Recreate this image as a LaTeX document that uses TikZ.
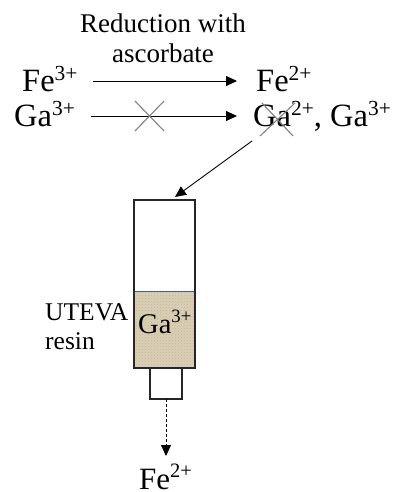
\documentclass[tikz,border=0pt]{standalone}
\usepackage{fontspec}
\setmainfont{Liberation Serif}
\usetikzlibrary{arrows.meta}
\usetikzlibrary{patterns}

\definecolor{resinbeige}{HTML}{DACFB6}
\definecolor{resinspeck}{HTML}{C4B795}
\definecolor{resinline}{HTML}{3F5F9F}

\newcommand{\charge}[1]{\raisebox{0.36em}{\scalebox{0.66}{#1}}}

\tikzset{
  big/.style={font=\fontsize{32.5}{36}\selectfont, text height=22pt, text depth=0pt, inner ysep=0pt},
  label/.style={font=\fontsize{25.5}{30}\selectfont, inner sep=0pt},
  reaction/.style={line width=0.9pt, -{Triangle[length=11pt,width=10pt]}},
  crossout/.style={line width=1.1pt, gray},
  box/.style={line width=1.5pt, draw=black!85, outer sep=0pt, inner sep=0pt}
}

\begin{document}
\begin{tikzpicture}[x=1pt, y=-1pt]
\useasboundingbox (0,0) rectangle (395,492);
\clip (0,0) rectangle (395,492);

% text at the top
\node[label, align=center, anchor=base, font=\fontsize{27}{30}\selectfont] (reduction) at (163,63) {Reduction with\\ascorbate};

% the two reactions
\node[big, anchor=base west, inner xsep=15pt] (fethree) at (7,92)   {Fe\charge{3+}};
\node[big, anchor=base west, inner xsep=16pt] (gathree) at (-2,127) {Ga\charge{3+}};
\node[big, anchor=base west, inner xsep=19pt] (fetwo)   at (237,92) {Fe\charge{2+}};
\node[big, anchor=base west, inner xsep=16pt] (gamix)   at (237,127) {Ga\charge{2+}, Ga\charge{3+}};

\draw[reaction] (fethree.east) -- (fetwo.west);
\draw[reaction] (gathree.east) -- (gamix.west);

\draw[crossout] (135,101) -- (164,131);
\draw[crossout] (135,131) -- (164,101);
\draw[crossout] (262,103) -- (293,136);
\draw[crossout] (260,136) -- (295,103);

% the column
\fill[resinbeige] (134,291) rectangle (195,368);
\fill[pattern=crosshatch dots, pattern color=resinspeck] (134,291) rectangle (195,368);
\draw[line width=1pt, resinline] (134,291) -- (195,291);
\node[box, minimum width=61pt, minimum height=168pt, anchor=north west] (column) at (134,200) {};
\node[box, minimum width=32pt, minimum height=31pt, anchor=north west] (outlet) at (150,368) {};

\node[label, anchor=base west] (uteva) at (45,320) {UTEVA};
\node[label, anchor=base west] (resin) at (45,349) {resin};
\node[anchor=base west, inner sep=0pt, font=\fontsize{28.5}{32}\selectfont] (gacolumn) at (138,333) {Ga\charge{3+}};

\coordinate (gaout) at (252,141);
\coordinate (colin) at (175,197);
\draw[reaction] (gaout) -- (colin);

% what comes out
\node[big, anchor=base west, inner xsep=0pt, font=\fontsize{31}{36}\selectfont] (feout) at (139,489) {Fe\charge{2+}};
\coordinate (feend) at (166,456);
\draw[reaction, densely dashed, line width=0.8pt] (outlet.south) -- (feend);

\end{tikzpicture}
\end{document}
